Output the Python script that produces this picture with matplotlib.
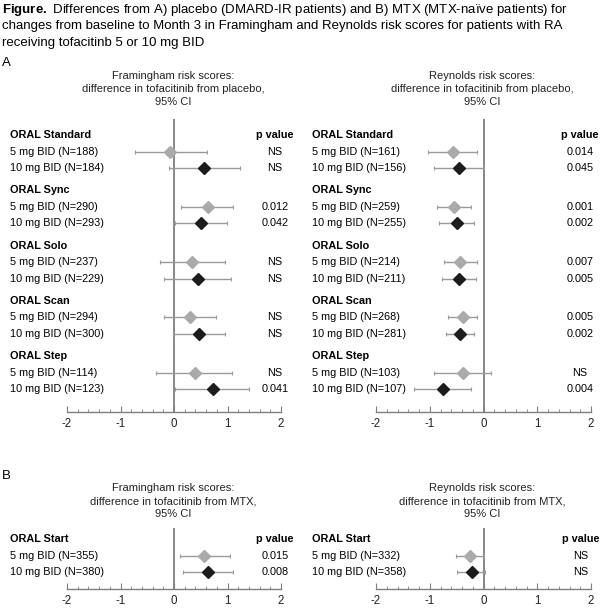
import matplotlib
matplotlib.use('Agg')
import matplotlib.pyplot as plt
from matplotlib.transforms import blended_transform_factory

# ---- data ----
trials_a = ['ORAL Standard', 'ORAL Sync', 'ORAL Solo', 'ORAL Scan', 'ORAL Step']
trials_b = ['ORAL Start']

# Framingham, difference from placebo
fram_pbo_n5 = [188, 290, 237, 294, 114]
fram_pbo_n10 = [184, 293, 229, 300, 123]
fram_pbo_est5 = [-0.07, 0.64, 0.34, 0.30, 0.39]
fram_pbo_lo5 = [-0.73, 0.13, -0.27, -0.18, -0.33]
fram_pbo_hi5 = [0.61, 1.11, 0.96, 0.78, 1.08]
fram_pbo_est10 = [0.57, 0.50, 0.45, 0.47, 0.72]
fram_pbo_lo10 = [-0.09, 0.01, -0.18, -0.01, 0.02]
fram_pbo_hi10 = [1.23, 0.99, 1.06, 0.95, 1.41]
fram_pbo_p5 = ['NS', '0.012', 'NS', 'NS', 'NS']
fram_pbo_p10 = ['NS', '0.042', 'NS', 'NS', '0.041']

# Reynolds, difference from placebo
reyn_pbo_n5 = [161, 259, 214, 268, 103]
reyn_pbo_n10 = [156, 255, 211, 281, 107]
reyn_pbo_est5 = [-0.57, -0.54, -0.43, -0.39, -0.39]
reyn_pbo_lo5 = [-1.03, -0.87, -0.74, -0.66, -0.93]
reyn_pbo_hi5 = [-0.12, -0.23, -0.12, -0.12, 0.14]
reyn_pbo_est10 = [-0.46, -0.50, -0.45, -0.43, -0.76]
reyn_pbo_lo10 = [-0.93, -0.82, -0.77, -0.70, -1.30]
reyn_pbo_hi10 = [0.0, -0.18, -0.14, -0.17, -0.24]
reyn_pbo_p5 = ['0.014', '0.001', '0.007', '0.005', 'NS']
reyn_pbo_p10 = ['0.045', '0.002', '0.005', '0.002', '0.004']

# Framingham, difference from MTX
fram_mtx_n5 = [355]
fram_mtx_n10 = [380]
fram_mtx_est5 = [0.57]
fram_mtx_lo5 = [0.11]
fram_mtx_hi5 = [1.04]
fram_mtx_est10 = [0.64]
fram_mtx_lo10 = [0.17]
fram_mtx_hi10 = [1.10]
fram_mtx_p5 = ['0.015']
fram_mtx_p10 = ['0.008']

# Reynolds, difference from MTX
reyn_mtx_n5 = [332]
reyn_mtx_n10 = [358]
reyn_mtx_est5 = [-0.26]
reyn_mtx_lo5 = [-0.52]
reyn_mtx_hi5 = [0.01]
reyn_mtx_est10 = [-0.22]
reyn_mtx_lo10 = [-0.50]
reyn_mtx_hi10 = [0.03]
reyn_mtx_p5 = ['NS']
reyn_mtx_p10 = ['NS']

# ---- style ----
W, H = 601, 608
plt.rcParams['font.family'] = ['Liberation Sans', 'DejaVu Sans']
plt.rcParams['mathtext.fontset'] = 'custom'
plt.rcParams['mathtext.rm'] = 'Liberation Sans'
plt.rcParams['mathtext.bf'] = 'Liberation Sans:bold'

GRAY = '#aaaaaa'
BLACK = '#1c1c1c'
LINE = '#9a9a9a'
AXIS = '#7f7f7f'
FS = 7.8
ROW = 16.5  # px per row

fig = plt.figure(figsize=(W / 100, H / 100), dpi=100)


def fx(x):
    return x / W


def fy(y):
    return 1 - y / H


def forest(left, right, top, bottom, head0, trials, n5, n10,
           est5, lo5, hi5, est10, lo10, hi10, p5, p10,
           label_x, pval_x, title, title_y):
    ax = fig.add_axes([fx(left), fy(bottom), fx(right - left), (bottom - top) / H])
    ax.set_xlim(-2, 2)
    ax.set_ylim((bottom - top) / ROW, 0)
    for s in ['left', 'right', 'top']:
        ax.spines[s].set_visible(False)
    ax.spines['bottom'].set_color(AXIS)
    ax.spines['bottom'].set_linewidth(1.0)
    ax.set_yticks([])
    ax.set_xticks([-2, -1, 0, 1, 2])
    ax.set_xticklabels(['-2', '-1', '0', '1', '2'])
    ax.set_xticks([i / 5 for i in range(-10, 11)], minor=True)
    ax.tick_params(axis='x', which='major', direction='in', length=4, width=0.8,
                   color=AXIS, labelsize=8.3, pad=4.5, labelcolor='#222222')
    ax.tick_params(axis='x', which='minor', direction='in', length=2.5, width=0.6, color=AXIS)
    ax.axvline(0, color=AXIS, lw=1.3, zorder=1)

    trans = blended_transform_factory(fig.transFigure, ax.transData)
    for g in range(len(trials)):
        hy = head0 + g * 3.35
        ax.text(fx(label_x), hy, trials[g], transform=trans, fontsize=FS,
                fontweight='bold', va='center', ha='left')
        ax.text(fx(label_x), hy + 1, f'5 mg BID (N={n5[g]})', transform=trans,
                fontsize=FS, va='center', ha='left')
        ax.text(fx(label_x), hy + 2, f'10 mg BID (N={n10[g]})', transform=trans,
                fontsize=FS, va='center', ha='left')
        if g == 0:
            ax.text(fx(pval_x), hy, 'p value', transform=trans, fontsize=FS,
                    fontweight='bold', va='center', ha='center')
        ax.text(fx(pval_x), hy + 1, p5[g], transform=trans, fontsize=FS,
                va='center', ha='center')
        ax.text(fx(pval_x), hy + 2, p10[g], transform=trans, fontsize=FS,
                va='center', ha='center')

        ax.errorbar(est5[g], hy + 1, xerr=[[est5[g] - lo5[g]], [hi5[g] - est5[g]]],
                    fmt='D', color=GRAY, ms=5.8, ecolor=LINE, elinewidth=1.0,
                    capsize=1.6, capthick=0.8, zorder=3)
        ax.errorbar(est10[g], hy + 2, xerr=[[est10[g] - lo10[g]], [hi10[g] - est10[g]]],
                    fmt='D', color=BLACK, ms=6.3, ecolor=LINE, elinewidth=1.0,
                    capsize=1.6, capthick=0.8, zorder=3)

    cx = (left + right) / 2 - 1
    for i, line in enumerate(title):
        fig.text(fx(cx), fy(title_y + i * 13), line, fontsize=8.0,
                 ha='center', va='center', color='#222222')
    return ax


title_lines = [
    r'$\bf{Figure.}$ Differences from A) placebo (DMARD-IR patients) and B) MTX (MTX-naïve patients) for',
    'changes from baseline to Month 3 in Framingham and Reynolds risk scores for patients with RA',
    'receiving tofacitinb 5 or 10 mg BID',
]
for i, line in enumerate(title_lines):
    fig.text(fx(2), fy(10 + i * 16.3), line, fontsize=9.5, ha='left', va='center')

fig.text(fx(2), fy(63), 'A', fontsize=9.5, ha='left', va='center')
fig.text(fx(2), fy(476), 'B', fontsize=9.5, ha='left', va='center')

forest(67, 281, 119, 412, 0.97, trials_a, fram_pbo_n5, fram_pbo_n10,
       fram_pbo_est5, fram_pbo_lo5, fram_pbo_hi5,
       fram_pbo_est10, fram_pbo_lo10, fram_pbo_hi10,
       fram_pbo_p5, fram_pbo_p10, 10, 275,
       ['Framingham risk scores:', 'difference in tofacitinib from placebo,', '95% CI'], 76)

forest(376, 591, 119, 412, 0.97, trials_a, reyn_pbo_n5, reyn_pbo_n10,
       reyn_pbo_est5, reyn_pbo_lo5, reyn_pbo_hi5,
       reyn_pbo_est10, reyn_pbo_lo10, reyn_pbo_hi10,
       reyn_pbo_p5, reyn_pbo_p10, 312, 580,
       ['Reynolds risk scores:', 'difference in tofacitinib from placebo,', '95% CI'], 76)

forest(67, 281, 528, 589, 0.67, trials_b, fram_mtx_n5, fram_mtx_n10,
       fram_mtx_est5, fram_mtx_lo5, fram_mtx_hi5,
       fram_mtx_est10, fram_mtx_lo10, fram_mtx_hi10,
       fram_mtx_p5, fram_mtx_p10, 10, 275,
       ['Framingham risk scores:', 'difference in tofacitinib from MTX,', '95% CI'], 488)

forest(376, 591, 528, 589, 0.67, trials_b, reyn_mtx_n5, reyn_mtx_n10,
       reyn_mtx_est5, reyn_mtx_lo5, reyn_mtx_hi5,
       reyn_mtx_est10, reyn_mtx_lo10, reyn_mtx_hi10,
       reyn_mtx_p5, reyn_mtx_p10, 312, 581,
       ['Reynolds risk scores:', 'difference in tofacitinib from MTX,', '95% CI'], 488)

fig.savefig('out.png', dpi=100)
